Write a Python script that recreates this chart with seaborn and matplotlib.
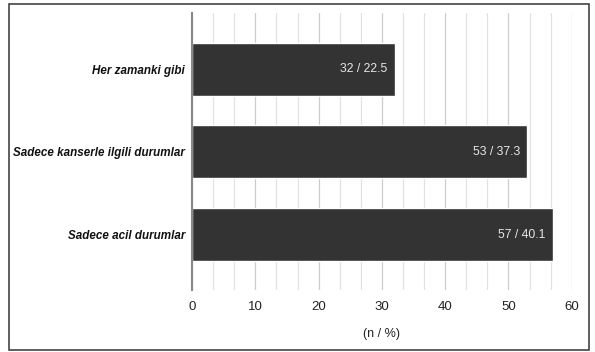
import numpy as np
import pandas as pd
import matplotlib
matplotlib.use("Agg")
import matplotlib.pyplot as plt
from matplotlib.patches import Rectangle
from matplotlib.ticker import MultipleLocator
import seaborn as sns

categories = ["Her zamanki gibi", "Sadece kanserle ilgili durumlar", "Sadece acil durumlar"]
counts = [32, 53, 57]
percents = [22.5, 37.3, 40.1]

table = pd.DataFrame({"kategori": categories, "n": counts, "yuzde": percents})

sns.set_style("white")
plt.rcParams["font.family"] = ["Liberation Sans", "DejaVu Sans"]

fig = plt.figure(figsize=(5.95, 3.52), dpi=100)
ax = fig.add_axes([0.3227, 0.176, 0.6383, 0.787])

sns.barplot(data=table, x="n", y="kategori", orient="h", color="#333333",
            saturation=1, width=0.64, ax=ax, zorder=3)

ax.set_xlim(0, 60)
ax.set_ylim(2.67, -0.68)
ax.xaxis.set_major_locator(MultipleLocator(10))
ax.xaxis.set_minor_locator(MultipleLocator(10 / 3))
ax.grid(axis="x", which="major", color="#cccccc", linewidth=0.9, zorder=0)
ax.grid(axis="x", which="minor", color="#e2e2e2", linewidth=0.9, zorder=0)
ax.set_axisbelow(True)
for s in ["top", "right", "bottom"]:
    ax.spines[s].set_visible(False)
ax.spines["left"].set_color("#888888")
ax.spines["left"].set_linewidth(1.5)
ax.spines["left"].set_zorder(4)
ax.tick_params(axis="both", which="both", length=0)
ax.tick_params(axis="x", labelsize=9.5, colors="#222222", pad=8)
ax.set_yticks(range(len(categories)))
ax.set_yticklabels(categories, fontsize=8.4, fontweight="bold", fontstyle="italic", color="#111111")
ax.tick_params(axis="y", pad=5)
ax.set_ylabel("")
ax.set_xlabel("(n / %)", fontsize=9, color="#222222", labelpad=11)

for i, (n, p) in enumerate(zip(counts, percents)):
    ax.annotate(f"{n} / {p}", xy=(n, i), xytext=(-5, 0), textcoords="offset points",
                ha="right", va="center", color="#e6e6e6", fontsize=8.8, zorder=5)

fig.patches.append(Rectangle((0.015, 0.006), 0.975, 0.984, transform=fig.transFigure,
                             fill=False, edgecolor="#444444", linewidth=1.2))

fig.savefig("out.png", dpi=100)
